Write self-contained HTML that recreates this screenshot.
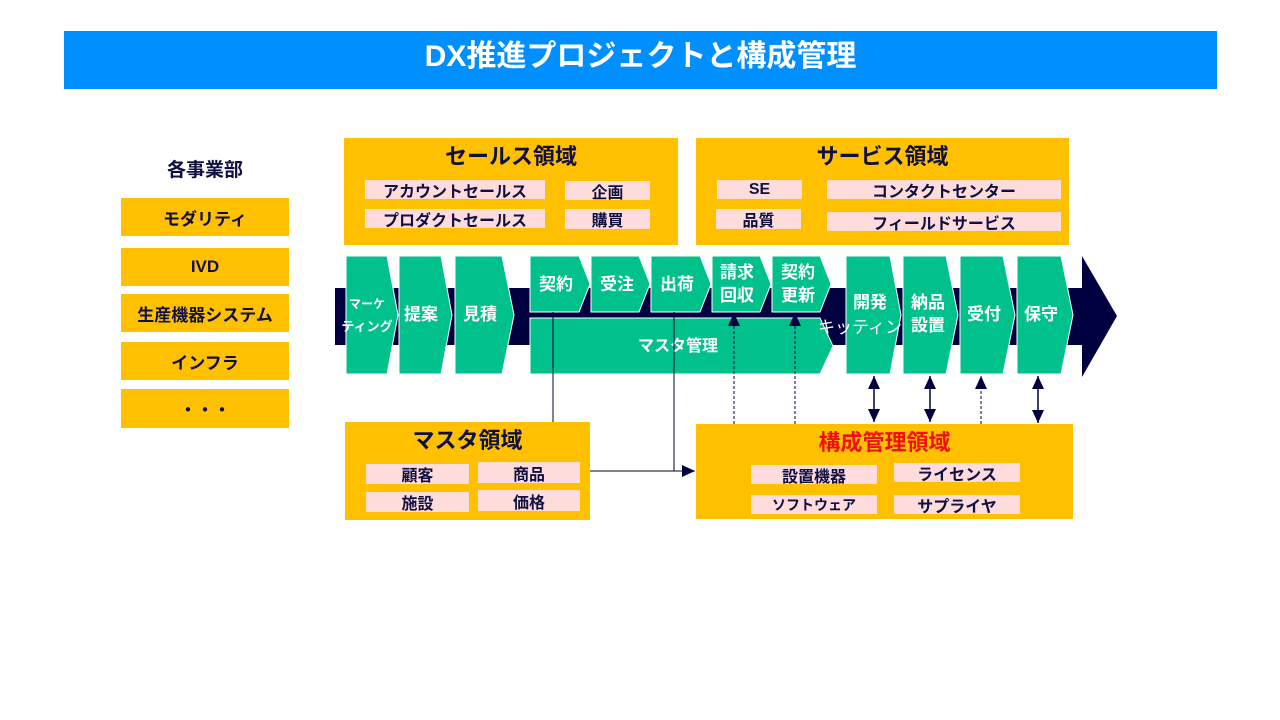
<!DOCTYPE html>
<html><head><meta charset="utf-8"><style>
body{margin:0;width:1280px;height:720px;background:#fff;position:relative;overflow:hidden;font-family:"Liberation Sans","Noto Sans CJK JP",sans-serif;font-weight:bold}
.a{position:absolute;box-sizing:border-box;display:flex;align-items:center;justify-content:center;white-space:nowrap}
.y{background:#FFC000;color:#101040}
.p{background:#FFDCDC;color:#101040;font-size:16px}
.t{font-size:22px}
svg{position:absolute;left:0;top:0}
</style></head><body>
<div class="a" style="left:64px;top:31px;width:1153px;height:58px;background:#008FFF"></div>
<div class="a" style="left:64px;top:30px;width:1153px;height:46px;color:#fff;font-size:30px">DX推進プロジェクトと構成管理</div>

<div class="a" style="left:121px;top:155px;width:168px;height:26px;font-size:19px;color:#101040">各事業部</div>
<div class="a y" style="left:121px;top:198px;width:168px;height:38px;font-size:17px">モダリティ</div>
<div class="a y" style="left:121px;top:248px;width:168px;height:38px;font-size:17px">IVD</div>
<div class="a y" style="left:121px;top:294px;width:168px;height:38px;font-size:17px">生産機器システム</div>
<div class="a y" style="left:121px;top:342px;width:168px;height:38px;font-size:17px">インフラ</div>
<div class="a y" style="left:121px;top:389px;width:168px;height:39px;font-size:17px">・・・</div>

<div class="a y" style="left:344px;top:138px;width:334px;height:107px"></div>
<div class="a t" style="left:344px;top:141px;width:334px;height:28px;color:#101040">セールス領域</div>
<div class="a p" style="left:365px;top:180px;width:180px;height:19px">アカウントセールス</div>
<div class="a p" style="left:565px;top:181px;width:85px;height:19px">企画</div>
<div class="a p" style="left:365px;top:209px;width:180px;height:19px">プロダクトセールス</div>
<div class="a p" style="left:565px;top:209px;width:85px;height:20px">購買</div>

<div class="a y" style="left:696px;top:138px;width:373px;height:107px"></div>
<div class="a t" style="left:696px;top:141px;width:373px;height:28px;color:#101040">サービス領域</div>
<div class="a p" style="left:717px;top:180px;width:85px;height:19px">SE</div>
<div class="a p" style="left:827px;top:180px;width:234px;height:19px">コンタクトセンター</div>
<div class="a p" style="left:716px;top:209px;width:85px;height:20px">品質</div>
<div class="a p" style="left:827px;top:212px;width:234px;height:19px">フィールドサービス</div>

<div class="a y" style="left:345px;top:422px;width:245px;height:98px"></div>
<div class="a t" style="left:345px;top:425px;width:245px;height:28px;color:#101040">マスタ領域</div>
<div class="a p" style="left:366px;top:464px;width:103px;height:20px">顧客</div>
<div class="a p" style="left:478px;top:462px;width:102px;height:21px">商品</div>
<div class="a p" style="left:366px;top:492px;width:103px;height:20px">施設</div>
<div class="a p" style="left:478px;top:490px;width:102px;height:21px">価格</div>

<div class="a y" style="left:696px;top:424px;width:377px;height:95px"></div>
<div class="a t" style="left:696px;top:427px;width:377px;height:28px;color:#F01010">構成管理領域</div>
<div class="a p" style="left:751px;top:465px;width:126px;height:19px">設置機器</div>
<div class="a p" style="left:894px;top:463px;width:126px;height:19px">ライセンス</div>
<div class="a p" style="left:751px;top:495px;width:126px;height:19px;font-size:14px">ソフトウェア</div>
<div class="a p" style="left:894px;top:495px;width:126px;height:19px">サプライヤ</div>

<svg width="1280" height="720" font-family="Liberation Sans, Noto Sans CJK JP, sans-serif" font-weight="bold">
<defs>
<marker id="ah2" markerWidth="14" markerHeight="14" refX="13" refY="6" orient="auto-start-reverse" markerUnits="userSpaceOnUse"><path d="M0,0 L13,6 L0,12 z" fill="#000040"/></marker>
</defs>
<rect x="335" y="288" width="748" height="57" fill="#000040"/>
<polygon points="1082,256 1117,316 1082,377" fill="#000040"/>
<g fill="#00C08B" stroke="#fff" stroke-width="1">
<polygon points="346,256 387,256 398,315 387,374 346,374"/>
<polygon points="399,256 441,256 452,315 441,374 399,374"/>
<polygon points="455,256 502,256 514,315 502,374 455,374"/>
<polygon points="530,256 579,256 590,284 579,312 530,312"/>
<polygon points="591,256 639,256 650,284 639,312 591,312"/>
<polygon points="651,256 700,256 711,284 700,312 651,312"/>
<polygon points="712,256 760,256 771,284 760,312 712,312"/>
<polygon points="772,256 820,256 831,284 820,312 772,312"/>
<polygon points="530,318 820,318 833,346 820,374 530,374"/>
<polygon points="846,256 890,256 901,315 890,374 846,374"/>
</g>
<text x="818" y="333" fill="#fff" font-size="17" font-weight="normal">キッティング</text>
<g fill="#00C08B" stroke="#fff" stroke-width="1">
<polygon points="903,256 946,256 958,315 946,374 903,374"/>
<polygon points="960,256 1003,256 1015,315 1003,374 960,374"/>
<polygon points="1017,256 1061,256 1073,315 1061,374 1017,374"/>
</g>
<g fill="#fff" font-size="17" text-anchor="middle">
<text x="367" y="308" font-size="12">マーケ</text>
<text x="367" y="331" font-size="13">ティング</text>
<text x="421" y="320">提案</text>
<text x="480" y="320">見積</text>
<text x="556" y="290">契約</text>
<text x="617" y="290">受注</text>
<text x="677" y="290">出荷</text>
<text x="737" y="278">請求</text>
<text x="737" y="301">回収</text>
<text x="798" y="278">契約</text>
<text x="798" y="301">更新</text>
<text x="678" y="351" font-size="16">マスタ管理</text>
<text x="870" y="308">開発</text>
<text x="928" y="308">納品</text>
<text x="928" y="331">設置</text>
<text x="984" y="320">受付</text>
<text x="1041" y="320">保守</text>
</g>
<g stroke="#000040" stroke-width="1" fill="none">
<line x1="553" y1="312" x2="553" y2="422"/>
<line x1="674" y1="312" x2="674" y2="471"/>
<line x1="590" y1="471" x2="695" y2="471" marker-end="url(#ah2)"/>
<line x1="734" y1="424" x2="734" y2="313" stroke-dasharray="3,2" marker-end="url(#ah2)"/>
<line x1="795" y1="424" x2="795" y2="313" stroke-dasharray="3,2" marker-end="url(#ah2)"/>
<line x1="874" y1="376" x2="874" y2="422" stroke-width="1.5" marker-start="url(#ah2)" marker-end="url(#ah2)"/>
<line x1="930" y1="376" x2="930" y2="422" stroke-width="1.5" marker-start="url(#ah2)" marker-end="url(#ah2)"/>
<line x1="981" y1="424" x2="981" y2="376" stroke-dasharray="3,2" marker-end="url(#ah2)"/>
<line x1="1038" y1="376" x2="1038" y2="423" stroke-width="1.5" marker-start="url(#ah2)" marker-end="url(#ah2)"/>
</g>
</svg>
</body></html>
